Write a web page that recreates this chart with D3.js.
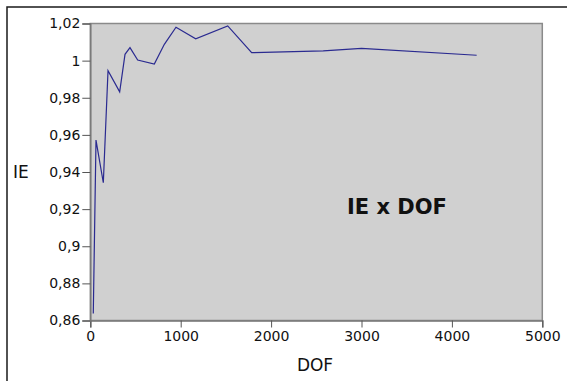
<!DOCTYPE html>
<html>
<head>
<meta charset="utf-8">
<script src="https://cdn.jsdelivr.net/npm/d3@7"></script>
<style>
  html, body { margin: 0; padding: 0; background: #fff; }
  svg { display: block; font-family: "DejaVu Sans", sans-serif; }
</style>
</head>
<body>
<div id="chart"></div>
<script>
// values
const dof = [33, 63, 144, 196, 325, 384, 439, 524, 708, 819, 948, 1166, 1520, 1785, 2577, 3000, 4274];
const ie  = [0.8638, 0.9572, 0.9342, 0.9946, 0.9832, 1.0034, 1.007, 1.0003, 0.9982, 1.0088, 1.018, 1.0118, 1.0187, 1.0043, 1.0052, 1.0066, 1.0029];
const xTicks = [0, 1000, 2000, 3000, 4000, 5000];
const yTicks = [0.86, 0.88, 0.9, 0.92, 0.94, 0.96, 0.98, 1, 1.02];

const width = 567, height = 381;
const plot = { left: 90.3, right: 542.3, top: 23.5, bottom: 320.5 };

const svg = d3.select("#chart").append("svg")
  .attr("width", width)
  .attr("height", height);

// outer frame (runs off the right/bottom edges)
svg.append("rect")
  .attr("x", 7).attr("y", 7)
  .attr("width", 600).attr("height", 400)
  .attr("fill", "none")
  .attr("stroke", "#1a1a1a")
  .attr("stroke-width", 1.5);

const x = d3.scaleLinear().domain([0, 5000]).range([plot.left, plot.right]);
const y = d3.scaleLinear().domain([0.86, 1.02]).range([plot.bottom, plot.top]);

// plot background
svg.append("rect")
  .attr("x", plot.left).attr("y", plot.top)
  .attr("width", plot.right - plot.left)
  .attr("height", plot.bottom - plot.top)
  .attr("fill", "#d0d0d0")
  .attr("stroke", "#8a8a8a")
  .attr("stroke-width", 1.5);

const fmt = d => String(+d.toFixed(2)).replace(".", ",");

const xAxis = svg.append("g")
  .attr("transform", `translate(0,${plot.bottom})`)
  .call(d3.axisBottom(x).tickValues(xTicks).tickSize(7).tickPadding(4).tickFormat(d3.format("d")));

const yAxis = svg.append("g")
  .attr("transform", `translate(${plot.left},0)`)
  .call(d3.axisLeft(y).tickValues(yTicks).tickSize(8).tickPadding(2).tickFormat(fmt));

[xAxis, yAxis].forEach(g => {
  g.select(".domain").attr("stroke", "#7a7a7a").attr("stroke-width", 1.5);
  g.selectAll(".tick line").attr("stroke", "#555");
  g.selectAll(".tick text")
    .attr("fill", "#111")
    .style("font-family", "'DejaVu Sans', sans-serif")
    .style("font-size", "14px");
});

// series
const line = d3.line()
  .x((d, i) => x(dof[i]))
  .y(d => y(d));

svg.append("path")
  .datum(ie)
  .attr("d", line)
  .attr("fill", "none")
  .attr("stroke", "#2a2a90")
  .attr("stroke-width", 1.2);

// labels
svg.append("text")
  .attr("x", 315).attr("y", 371)
  .attr("text-anchor", "middle")
  .style("font-size", "17px")
  .attr("fill", "#111")
  .text("DOF");

svg.append("text")
  .attr("x", 13).attr("y", 178)
  .style("font-size", "17px")
  .attr("fill", "#111")
  .text("IE");

svg.append("text")
  .attr("x", 347).attr("y", 214)
  .style("font-size", "21px")
  .style("font-weight", "bold")
  .attr("fill", "#111")
  .text("IE x DOF");
</script>
</body>
</html>
